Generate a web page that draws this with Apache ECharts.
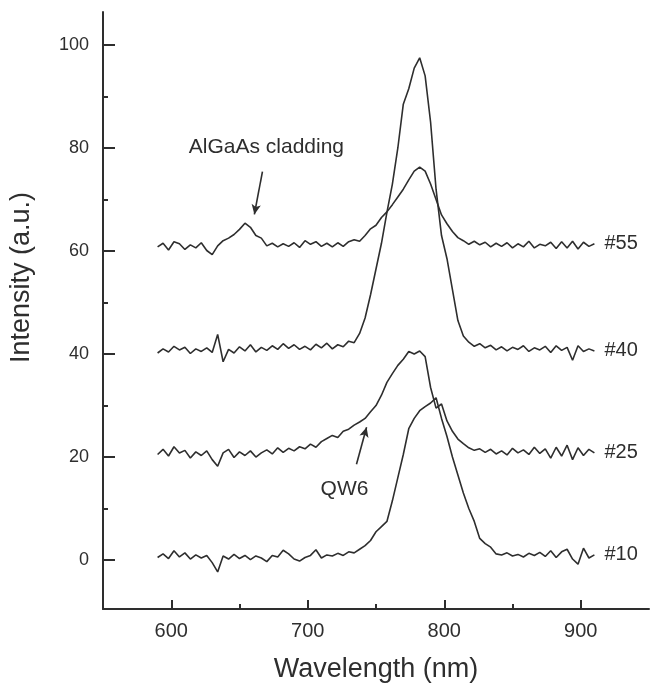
<!DOCTYPE html>
<html>
<head>
<meta charset="utf-8">
<script src="https://cdn.jsdelivr.net/npm/echarts@6/dist/echarts.min.js"></script>
<style>html,body{margin:0;padding:0;background:#fff;}#c{width:652px;height:688px;}</style>
</head>
<body>
<div id="c"></div>
<script>
var wavelength = [590,594,598,602,606,610,614,618,622,626,630,634,638,642,646,650,654,658,662,666,670,674,678,682,686,690,694,698,702,706,710,714,718,722,726,730,734,738,742,746,750,754,758,762,766,770,774,778,782,786,790,794,798,802,806,810,814,818,822,826,830,834,838,842,846,850,854,858,862,866,870,874,878,882,886,890,894,898,902,906,910];

var s10 = [0.5,1.2,0.3,1.8,0.6,1.4,0.2,1.0,0.4,0.9,-0.5,-2.3,0.8,0.2,1.1,0.3,0.9,0.1,0.8,0.4,-0.3,0.9,0.6,1.9,1.2,0.2,-0.2,0.5,0.9,2.0,0.4,1.0,0.8,1.3,0.9,1.6,1.4,2.1,2.8,3.8,5.5,6.5,7.5,11.5,16,20.5,25.5,27.5,29,29.8,30.5,31.5,27.5,24,20,16.5,13,10,7.5,4.2,3.2,2.5,1.2,1.0,1.4,0.8,1.1,0.6,1.3,0.9,1.5,0.7,1.8,0.5,1.6,2.1,0.2,-0.8,2.3,0.4,1.0];

var s25 = [20.5,21.5,20.2,22.0,20.8,21.3,19.8,21.0,20.3,21.2,19.5,18.2,20.8,21.5,19.9,21.0,20.3,21.2,20.0,20.8,21.4,20.6,21.8,20.9,21.7,21.2,22.0,21.6,22.5,21.9,23.0,23.6,24.2,23.8,25.0,25.4,26.2,26.8,27.5,28.8,30.0,32.0,34.5,36.2,37.8,39.0,40.5,40.0,40.6,39.5,33.5,29.5,30.3,27.0,25.0,23.5,22.6,21.8,21.3,21.6,20.9,21.5,20.6,21.2,20.4,21.7,20.8,21.4,20.5,21.9,20.7,21.6,19.8,21.9,20.2,22.3,19.5,21.8,20.3,21.5,20.8];

var s40 = [40.2,41.0,40.4,41.5,40.8,41.3,40.1,41.0,40.5,41.2,40.3,43.8,38.5,40.9,40.2,41.4,40.6,41.8,40.4,41.3,40.7,41.6,40.9,42.0,41.1,41.8,40.9,41.5,40.8,41.9,41.2,42.1,41.0,41.8,41.4,42.5,42.2,44.0,47.0,51.5,56.5,61.5,67.5,73.0,80.0,88.5,91.5,95.5,97.5,94.0,85.0,72.0,63.0,58.5,52.5,46.5,43.5,42.3,41.5,42.0,41.2,41.7,40.8,41.4,40.6,41.3,40.9,41.6,40.5,41.2,40.8,41.5,40.3,41.6,40.7,41.3,38.8,41.6,40.5,41.0,40.6];

var s55 = [60.8,61.5,60.2,61.8,61.4,60.3,61.2,60.6,61.6,60.1,59.3,61.0,62.0,62.5,63.2,64.2,65.4,64.6,63.0,62.5,61.0,61.5,60.8,61.4,60.9,61.6,60.7,62.0,61.3,61.8,60.9,61.5,60.8,61.6,60.9,61.8,62.2,61.9,63.0,64.3,65.0,66.5,67.6,69.0,70.5,72.0,73.8,75.5,76.3,75.5,73.0,70.0,67.0,65.3,63.8,62.6,62.0,61.3,61.9,61.2,61.7,60.8,61.5,60.9,61.6,60.6,61.4,60.8,61.9,60.6,61.3,61.0,61.7,60.5,61.8,60.6,61.9,60.4,61.7,60.9,61.4];

var seriesNames = ['#10', '#25', '#40', '#55'];
var seriesValues = [s10, s25, s40, s55];

var xMajorTicks = [600, 700, 800, 900];
var xMinorTicks = [650, 750, 850];
var yMajorTicks = [0, 20, 40, 60, 80, 100];
var yMinorTicks = [10, 30, 50, 70, 90];

var annotationTexts = [[669.7, 80.2, 'AlGaAs cladding'], [726.9, 13.8, 'QW6']];
var annotationArrows = [
  [[666.8, 75.4], [660.9, 67.1]],
  [[735.7, 18.6], [743.1, 25.8]]
];

var FONT = '"Liberation Sans", Arial, Helvetica, sans-serif';
var INK = '#2e2e2e';

function pairs(vals) {
  return wavelength.map(function (w, i) { return [w, vals[i]]; });
}

var series = seriesValues.map(function (vals, k) {
  return {
    name: seriesNames[k],
    type: 'line',
    data: pairs(vals),
    showSymbol: false,
    symbol: 'none',
    lineStyle: { color: INK, width: 1.6 },
    endLabel: {
      show: true,
      formatter: seriesNames[k],
      distance: 10,
      color: INK,
      fontSize: 20,
      fontFamily: FONT
    },
    silent: true,
    animation: false
  };
});

series.push({
  type: 'scatter',
  data: annotationTexts,
  symbolSize: 0,
  itemStyle: { color: INK, opacity: 1 },
  silent: true,
  label: {
    show: true,
    position: [0, 0],
    align: 'center',
    verticalAlign: 'middle',
    formatter: function (p) { return p.value[2]; },
    color: INK,
    opacity: 1,
    textBorderWidth: 0,
    fontSize: 21,
    fontFamily: FONT
  },
  markLine: {
    silent: true,
    symbol: ['none', 'arrow'],
    symbolSize: [7, 10],
    lineStyle: { color: INK, width: 1.6, type: 'solid', opacity: 1 },
    label: { show: false },
    data: annotationArrows.map(function (a) {
      return [{ coord: a[0] }, { coord: a[1] }];
    }),
    animation: false
  },
  animation: false
});

var axisLineStyle = { color: INK, width: 2 };

var option = {
  backgroundColor: '#fff',
  animation: false,
  grid: { left: 102, right: 3, top: 12, bottom: 78 },
  xAxis: [
    {
      type: 'value', min: 550, max: 950,
      position: 'bottom',
      name: 'Wavelength (nm)', nameLocation: 'middle', nameGap: 47,
      nameTextStyle: { fontSize: 27, color: INK, fontFamily: FONT },
      axisLine: { show: true, onZero: false, lineStyle: axisLineStyle },
      axisTick: { show: true, inside: true, length: 9, customValues: xMajorTicks, lineStyle: { color: INK, width: 2 } },
      axisLabel: { show: true, customValues: xMajorTicks, margin: 12, fontSize: 20, color: INK, fontFamily: FONT },
      splitLine: { show: false }
    },
    {
      type: 'value', min: 550, max: 950,
      position: 'bottom', offset: 0,
      axisLine: { show: false, onZero: false },
      axisTick: { show: true, inside: true, length: 5, customValues: xMinorTicks, lineStyle: { color: INK, width: 2 } },
      axisLabel: { show: false },
      splitLine: { show: false }
    }
  ],
  yAxis: [
    {
      type: 'value', min: -9.5, max: 106.4,
      position: 'left',
      name: 'Intensity (a.u.)', nameLocation: 'middle', nameGap: 68,
      nameTextStyle: { fontSize: 27, color: INK, fontFamily: FONT, padding: [0, 0, 0, 66] },
      axisLine: { show: true, onZero: false, lineStyle: axisLineStyle },
      axisTick: { show: true, inside: true, length: 12, customValues: yMajorTicks, lineStyle: { color: INK, width: 2 } },
      axisLabel: { show: true, customValues: yMajorTicks, margin: 14, fontSize: 18, color: INK, fontFamily: FONT },
      splitLine: { show: false }
    },
    {
      type: 'value', min: -9.5, max: 106.4,
      position: 'left', offset: 0,
      axisLine: { show: false, onZero: false },
      axisTick: { show: true, inside: true, length: 5, customValues: yMinorTicks, lineStyle: { color: INK, width: 2 } },
      axisLabel: { show: false },
      splitLine: { show: false }
    }
  ],
  series: series
};

var chart = echarts.init(document.getElementById('c'), null, { renderer: 'canvas' });
chart.setOption(option);
</script>
</body>
</html>
